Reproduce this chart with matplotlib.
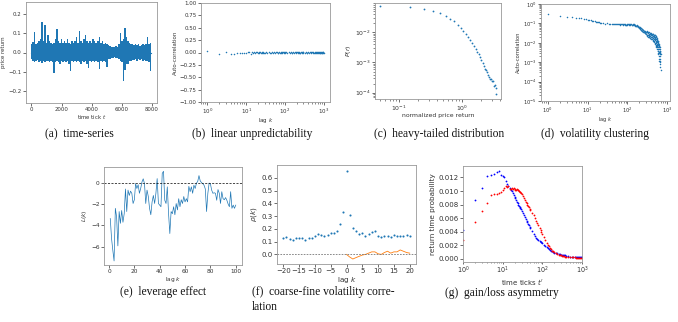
import numpy as np
import matplotlib
matplotlib.use('Agg')
import matplotlib.pyplot as plt

# ---------------- data ----------------
# (a) price return time-series: upper / lower envelope per 100-tick segment (t = 0 .. 7900)
a_hi = [0.045, 0.055, 0.105, 0.045, 0.05, 0.06, 0.07, 0.155, 0.06, 0.14,
        0.05, 0.09, 0.06, 0.05, 0.045, 0.05, 0.07, 0.12, 0.06, 0.05,
        0.07, 0.05, 0.06, 0.05, 0.07, 0.05, 0.045, 0.06, 0.05, 0.06,
        0.08, 0.05, 0.11, 0.06, 0.05, 0.07, 0.09, 0.06, 0.05, 0.06,
        0.05, 0.07, 0.06, 0.05, 0.06, 0.08, 0.05, 0.06, 0.045, 0.05,
        0.045, 0.04, 0.035, 0.03, 0.03, 0.03, 0.035, 0.03, 0.045, 0.10,
        0.06, 0.07, 0.125, 0.08, 0.06, 0.05, 0.045, 0.045, 0.04, 0.045,
        0.04, 0.045, 0.035, 0.04, 0.045, 0.04, 0.045, 0.08, 0.045, 0.05]
a_lo = [-0.035, -0.045, -0.05, -0.045, -0.04, -0.05, -0.045, -0.055, -0.045, -0.05,
        -0.045, -0.045, -0.05, -0.045, -0.05, -0.105, -0.05, -0.045, -0.05, -0.06,
        -0.045, -0.05, -0.045, -0.05, -0.045, -0.06, -0.095, -0.045, -0.05, -0.045,
        -0.05, -0.045, -0.05, -0.06, -0.045, -0.05, -0.045, -0.06, -0.08, -0.045,
        -0.05, -0.045, -0.05, -0.045, -0.05, -0.085, -0.045, -0.05, -0.045, -0.05,
        -0.075, -0.035, -0.035, -0.03, -0.03, -0.025, -0.03, -0.03, -0.035, -0.045,
        -0.05, -0.145, -0.09, -0.06, -0.06, -0.045, -0.045, -0.04, -0.04, -0.035,
        -0.045, -0.035, -0.04, -0.035, -0.045, -0.04, -0.045, -0.045, -0.05, -0.095]
a_seg = 100

# (b) linear auto-correlation of returns
b_lag = list(range(1, 31)) + list(range(32, 100, 3)) + list(range(100, 300, 8)) + list(range(300, 1001, 20))
b_acf = [0.03, -0.04, 0.01, -0.03, -0.025, -0.02, -0.015, -0.01, 0.0, -0.02,
         0.01, 0.02, -0.03, 0.015, -0.01, 0.01, -0.005, 0.01, 0.005, -0.005,
         0.01, 0.0, 0.005, -0.005, 0.0, 0.01, -0.005, 0.005, 0.0, -0.005,
         0.01, -0.005, 0.005, 0.0, -0.01, 0.008, -0.003, 0.004, -0.006, 0.002,
         0.007, -0.004, 0.0, 0.005, -0.008, 0.003, -0.002, 0.006, -0.005, 0.001,
         0.004, -0.006, 0.002,
         -0.003, 0.005, -0.001, 0.004, -0.006, 0.002, 0.0, -0.004, 0.006, -0.002,
         0.003, -0.005, 0.001, 0.004, -0.003, 0.002, -0.006, 0.005, 0.0, -0.002,
         0.003, -0.004, 0.001, 0.004, -0.003,
         0.002, -0.004, 0.003, 0.0, -0.005, 0.004, -0.002, 0.001, 0.003, -0.003,
         0.002, -0.001, 0.004, -0.004, 0.0, 0.002, -0.003, 0.003, -0.001, 0.001,
         -0.002, 0.003, -0.004, 0.002, 0.0, -0.002, 0.004, -0.003, 0.001, -0.001,
         0.002, -0.002, 0.003, -0.003, 0.001, 0.0]

# (c) distribution of normalized price return
c_r = [0.05, 0.15, 0.25, 0.35, 0.45, 0.55, 0.65, 0.75, 0.85, 0.95,
       1.05, 1.15, 1.25, 1.35, 1.45, 1.55, 1.65, 1.75, 1.85, 1.95,
       2.05, 2.15, 2.25, 2.35, 2.45, 2.55, 2.65, 2.75, 2.85, 2.95,
       3.05, 3.15, 3.25, 3.35, 3.45, 3.55]
c_p = [0.0724, 0.0684, 0.0603, 0.0513, 0.0437, 0.0355, 0.0282, 0.0229, 0.0174, 0.0138,
       0.0110, 0.0087, 0.0069, 0.0055, 0.0044, 0.0035, 0.0029, 0.0023, 0.0019, 0.0015,
       0.0012, 0.00098, 0.00079, 0.00063, 0.00055, 0.00048, 0.00038, 0.00033, 0.00028, 0.00028,
       0.00024, 0.00025, 0.000166, 0.000182, 0.000138, 0.000089]

# (d) auto-correlation of absolute returns
d_lag = list(range(1, 21)) + list(range(22, 101, 3)) + list(range(103, 200, 4)) + list(range(203, 500, 4)) + list(range(503, 681, 3))
d_acf = [0.30, 0.23, 0.22, 0.21, 0.20, 0.19, 0.18, 0.17, 0.165, 0.155,
         0.15, 0.145, 0.14, 0.135, 0.13, 0.125, 0.12, 0.12, 0.115, 0.11,
         0.105, 0.10, 0.098, 0.10, 0.095, 0.097, 0.093, 0.095, 0.092, 0.094,
         0.09, 0.093, 0.088, 0.092, 0.09, 0.087, 0.091, 0.089, 0.086, 0.09,
         0.088, 0.085, 0.089, 0.087, 0.084, 0.088, 0.086,
         0.092, 0.085, 0.095, 0.088, 0.083, 0.093, 0.087, 0.08, 0.09, 0.084,
         0.078, 0.088, 0.08, 0.075, 0.085, 0.077, 0.072, 0.08, 0.07, 0.075,
         0.066, 0.072, 0.063, 0.068, 0.06,
         0.062, 0.052, 0.058, 0.048, 0.055, 0.045, 0.052, 0.042, 0.05, 0.04,
         0.047, 0.038, 0.045, 0.036, 0.043, 0.034, 0.041, 0.033, 0.04, 0.031,
         0.038, 0.03, 0.037, 0.029, 0.035,
         0.04, 0.026, 0.034, 0.022, 0.038, 0.025, 0.031, 0.02, 0.036, 0.024,
         0.03, 0.019, 0.034, 0.023, 0.028, 0.018, 0.033, 0.022, 0.027, 0.017,
         0.032, 0.021, 0.026, 0.016, 0.03,
         0.02, 0.025, 0.015, 0.029, 0.019, 0.024, 0.014, 0.028, 0.018, 0.023,
         0.013, 0.027, 0.017, 0.022, 0.012, 0.026, 0.016, 0.021, 0.011, 0.025,
         0.015, 0.02, 0.01, 0.024, 0.014,
         0.018, 0.009, 0.022, 0.012, 0.007, 0.019, 0.01, 0.015, 0.006, 0.02,
         0.011, 0.008, 0.017, 0.009, 0.013, 0.005, 0.016, 0.008, 0.011, 0.006,
         0.014, 0.007, 0.01, 0.004, 0.013, 0.006, 0.009, 0.003, 0.012, 0.005,
         0.008, 0.0025, 0.011, 0.004, 0.007, 0.002, 0.009, 0.0035, 0.006, 0.0015,
         0.008, 0.003, 0.005, 0.0012, 0.007, 0.0025, 0.004, 0.001, 0.006, 0.002,
         0.0035, 0.0008, 0.005, 0.0015, 0.003, 0.0006, 0.004, 0.0012, 0.0025, 0.0004]

# (e) leverage effect L(k), k = 1..100
e_lag = list(range(1, 101))
e_L = [-3.35, -5.2, -6.3, -7.3, -2.4, -3.2, -5.9, -2.7, -3.8, -2.6,
       -3.7, -2.9, -0.6, -2.7, -0.7, -1.2, -0.8, -1.0, -1.95, -1.6,
       -0.1, -0.55, -0.2, -1.0, -0.55, 0.05, 0.35, -0.1, -1.95, -0.7,
       -1.3, -2.4, -3.0, -1.8, -1.2, -1.95, -1.0, 0.37, -1.95, -2.1,
       -2.25, 0.85, 1.05, -1.65, -1.95, -0.4, -2.9, -4.75, -2.7, -2.9,
       -2.25, -3.0, -1.95, -2.55, -1.5, -2.25, -1.6, -1.95, -1.3, -1.8,
       -1.5, -1.8, -0.35, -0.85, -0.4, -1.0, -0.25, -0.55, -0.05, 0.1,
       0.65, 0.15, 0.0, -0.1, -0.25, -0.6, -2.7, -1.0, -0.05, -0.1,
       -0.7, -1.0, -0.95, -1.0, -1.65, -0.65, -1.0, -1.95, -0.85, -1.5,
       -1.6, -1.4, -1.65, -2.0, -2.25, -0.85, -2.4, -2.1, -2.4, -2.1]

# (f) coarse-fine volatility correlation
f_lag = list(range(-20, 21))
f_rho = [0.132, 0.135, 0.12, 0.11, 0.125, 0.127, 0.13, 0.115, 0.125, 0.13,
         0.145, 0.158, 0.15, 0.145, 0.15, 0.17, 0.17, 0.187, 0.236, 0.335,
         0.652, 0.31, 0.203, 0.18, 0.16, 0.165, 0.148, 0.16, 0.177, 0.182,
         0.148, 0.135, 0.143, 0.143, 0.14, 0.15, 0.145, 0.148, 0.148, 0.15, 0.143]
f_lag2 = list(range(0, 21))
f_diff = [0.0, -0.02, -0.036, -0.025, -0.015, -0.005, 0.0, 0.01, 0.02, 0.02,
          0.005, 0.0, 0.015, 0.025, 0.01, 0.02, 0.02, 0.035, 0.025, 0.015, 0.01]

# (g) gain/loss asymmetry: return time probability
g_t = list(range(1, 31)) + list(range(32, 51, 2)) + list(range(55, 101, 5)) + list(range(110, 201, 10)) + list(range(220, 401, 20)) + list(range(450, 1001, 50))
g_blue = [0.0042, 0.0087, 0.0105, 0.0122, 0.0123, 0.0125, 0.0128, 0.0130, 0.0123, 0.0122,
          0.0121, 0.0115, 0.0110, 0.0107, 0.0104, 0.0102, 0.0100, 0.0097, 0.0094, 0.0091,
          0.0089, 0.0086, 0.0084, 0.0082, 0.0080, 0.0078, 0.0076, 0.0075, 0.0073, 0.0071,
          0.0068, 0.0065, 0.0062, 0.0059, 0.0056, 0.0054, 0.0051, 0.0049, 0.0047, 0.0045,
          0.0041, 0.0037, 0.0034, 0.0031, 0.0029, 0.0027, 0.0026, 0.0025, 0.0024, 0.0023,
          0.0020, 0.0018, 0.0017, 0.0016, 0.0014, 0.0013, 0.0012, 0.0011, 0.0010, 0.0009,
          0.0008, 0.0008, 0.0007, 0.0007, 0.0006, 0.0006, 0.0005, 0.0005, 0.0005, 0.0004,
          0.0004, 0.0003, 0.0003, 0.0003, 0.0003, 0.0002, 0.0002, 0.0002, 0.0002, 0.0002, 0.0002, 0.0002]
g_red = [0.0027, 0.0054, 0.0071, 0.0082, 0.0094, 0.0095, 0.0096, 0.0097, 0.0099, 0.0102,
         0.0105, 0.0108, 0.0106, 0.0108, 0.0103, 0.0103, 0.0104, 0.0103, 0.0104, 0.0102,
         0.0103, 0.0102, 0.0103, 0.0101, 0.0101, 0.0100, 0.0099, 0.0098, 0.0097, 0.0095,
         0.0092, 0.0090, 0.0087, 0.0084, 0.0082, 0.0080, 0.0078, 0.0076, 0.0074, 0.0072,
         0.0068, 0.0064, 0.0060, 0.0056, 0.0053, 0.0050, 0.0046, 0.0043, 0.0040, 0.0037,
         0.0032, 0.0027, 0.0023, 0.0020, 0.0018, 0.0016, 0.0014, 0.0012, 0.0011, 0.0010,
         0.0008, 0.0007, 0.0006, 0.0005, 0.0005, 0.0004, 0.0004, 0.0004, 0.0003, 0.0003,
         0.0003, 0.0003, 0.0002, 0.0002, 0.0002, 0.0001, 0.0001, 0.0001, 0.0001, 0.0001, 0.0001, 0.0001]

captions = ["(a)  time-series", "(b)  linear unpredictability", "(c)  heavy-tailed distribution",
            "(d)  volatility clustering", "(e)  leverage effect",
            "(f)  coarse-fine volatility corre-", "lation", "(g)  gain/loss asymmetry"]

# ---------------- figure ----------------
W, H = 678, 322
fig = plt.figure(figsize=(W / 100, H / 100), dpi=100)
TXT = '#333333'
C0, C1 = '#1f77b4', '#ff7f0e'


def add_ax(l, r, t, b):
    return fig.add_axes([l / W, 1 - b / H, (r - l) / W, (b - t) / H])


def style(ax, fs):
    for s in ax.spines.values():
        s.set_color('#999999')
        s.set_linewidth(0.6)
    ax.tick_params(which='major', length=2, width=0.5, labelsize=fs, colors=TXT, pad=1.2)
    ax.tick_params(which='minor', length=1.2, width=0.4, colors=TXT)


def pair(x, y):
    n = min(len(x), len(y))
    return list(x)[:n], list(y)[:n]


# (a)
ax = add_ax(26, 157, 2, 103)
seg_t = np.arange(len(a_hi)) * a_seg
ax.fill_between(seg_t, a_lo, a_hi, step='mid', color=C0, lw=0)
ax.plot(seg_t, np.zeros(len(seg_t)), color=C0, lw=0.8)
ax.set_xlim(-360, 8330)
ax.set_ylim(-0.26, 0.26)
ax.set_xticks([0, 2000, 4000, 6000, 8000])
ax.set_yticks([-0.2, -0.1, 0.0, 0.1, 0.2])
style(ax, 3.9)
ax.set_xlabel('time tick $t$', fontsize=3.9, color=TXT, labelpad=0.5)
ax.set_ylabel('price return', fontsize=3.9, color=TXT, labelpad=1.5)

# (b)
ax = add_ax(201, 330, 3, 102)
x, y = pair(b_lag, b_acf)
ax.plot(x, y, 'o', color=C0, ms=1.1, mew=0)
ax.set_xscale('log')
ax.set_xlim(0.69, 1450)
ax.set_ylim(-1, 1)
ax.set_yticks(np.arange(-1, 1.01, 0.25))
ax.set_yticklabels(['\u22121.00', '\u22120.75', '\u22120.50', '\u22120.25', '0.00', '0.25', '0.50', '0.75', '1.00'])
style(ax, 4.0)
ax.set_xlabel('lag $k$', fontsize=4.0, color=TXT, labelpad=0.5)
ax.set_ylabel('Auto-correlation', fontsize=4.0, color=TXT, labelpad=1.5)

# (c)
ax = add_ax(375, 501, 3, 99)
x, y = pair(c_r, c_p)
ax.plot(x, y, 'o', color=C0, ms=1.3, mew=0)
ax.set_xscale('log')
ax.set_yscale('log')
ax.set_xlim(0.041, 4.2)
ax.set_ylim(6.2e-5, 0.093)
style(ax, 4.4)
ax.set_xlabel('normalized price return', fontsize=4.4, color=TXT, labelpad=0.5)
ax.set_ylabel('$P(r)$', fontsize=4.4, color=TXT, labelpad=1.5)

# (d)
ax = add_ax(541, 670, 4, 101)
x, y = pair(d_lag, d_acf)
ax.plot(x, y, 'o', color=C0, ms=1.1, mew=0)
ax.set_xscale('log')
ax.set_yscale('log')
ax.set_xlim(0.68, 1170)
ax.set_ylim(1e-5, 1)
ax.set_yticks([1e-5, 1e-4, 1e-3, 1e-2, 1e-1, 1])
style(ax, 3.7)
ax.set_xlabel('lag $k$', fontsize=3.7, color=TXT, labelpad=0.5)
ax.set_ylabel('Auto-correlation', fontsize=3.7, color=TXT, labelpad=1.5)

# (e)
ax = add_ax(104, 242, 167, 265)
x, y = pair(e_lag, e_L)
ax.plot(x, y, color=C0, lw=0.5)
ax.axhline(0, color='k', ls='--', lw=0.5, dashes=(3, 2))
ax.set_xlim(-3.95, 104.95)
ax.set_ylim(-7.68, 1.45)
ax.set_yticks([-6, -4, -2, 0])
ax.set_xticks([0, 20, 40, 60, 80, 100])
style(ax, 4.2)
ax.set_xlabel('lag $k$', fontsize=4.2, color=TXT, labelpad=0.5)
ax.set_ylabel('$L(k)$', fontsize=4.2, color=TXT, labelpad=1.5)

# (f)
ax = add_ax(277, 416, 165, 264)
x, y = pair(f_lag, f_rho)
ax.plot(x, y, 'o', color=C0, ms=1.5, mew=0)
x, y = pair(f_lag2, f_diff)
ax.plot(x, y, color=C1, lw=0.6)
ax.axhline(0, color='#777777', ls='--', lw=0.6, dashes=(2, 1.5))
ax.set_xlim(-22, 22)
ax.set_ylim(-0.075, 0.70)
ax.set_xticks(range(-20, 21, 5))
ax.set_yticks([0.0, 0.1, 0.2, 0.3, 0.4, 0.5, 0.6])
style(ax, 5.0)
ax.set_xlabel('lag $k$', fontsize=5.2, color=TXT, labelpad=0.5)
ax.set_ylabel(r'$\rho(k)$', fontsize=5.2, color=TXT, labelpad=1.5)

# (g)
ax = add_ax(463, 582, 166, 262)
x, y = pair(g_t, g_blue)
ax.plot(x, y, 'o', color='blue', ms=1.3, mew=0)
x, y = pair(g_t, g_red)
ax.plot(x, y, 'o', color='red', ms=1.3, mew=0)
ax.set_xscale('log')
ax.set_xlim(1, 1000)
ax.set_ylim(-0.0005, 0.0137)
ax.set_yticks([0.0, 0.002, 0.004, 0.006, 0.008, 0.010, 0.012])
ax.set_yticklabels(['0.000', '0.002', '0.004', '0.006', '0.008', '0.010', '0.012'])
style(ax, 5.0)
ax.tick_params(axis='x', which='major', pad=0.5, length=1.6, labelsize=4.7)
ax.tick_params(axis='x', which='minor', length=1.0)
ax.set_xlabel("time ticks $t'$", fontsize=5.0, color=TXT, labelpad=0.3)
ax.set_ylabel('return time probability', fontsize=5.2, color=TXT, labelpad=1.5)

# captions
cap_kw = dict(fontsize=8.3, family='Liberation Serif', color='#111111', va='center')
fig.text(79 / W, 1 - 134 / H, captions[0], ha='center', **cap_kw)
fig.text(252 / W, 1 - 134 / H, captions[1], ha='center', **cap_kw)
fig.text(439 / W, 1 - 134 / H, captions[2], ha='center', **cap_kw)
fig.text(595 / W, 1 - 134 / H, captions[3], ha='center', **cap_kw)
fig.text(163 / W, 1 - 292 / H, captions[4], ha='center', **cap_kw)
fig.text(252 / W, 1 - 292 / H, captions[5], ha='left', **cap_kw)
fig.text(252 / W, 1 - 307 / H, captions[6], ha='left', **cap_kw)
fig.text(502 / W, 1 - 293 / H, captions[7], ha='center', **cap_kw)

fig.savefig('out.png', dpi=100)
